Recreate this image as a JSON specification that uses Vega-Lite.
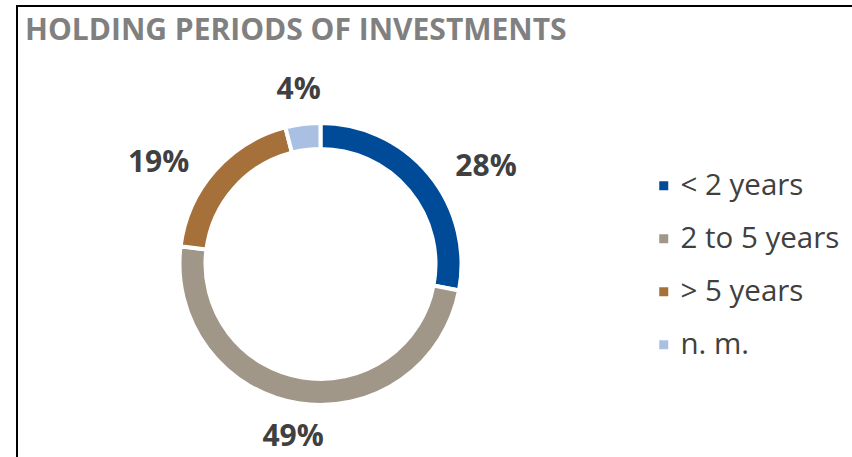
{
  "$schema": "https://vega.github.io/schema/vega-lite/v6.json",
  "autosize": "none",
  "width": 835,
  "height": 451,
  "padding": {"left": 17, "top": 6, "right": 0, "bottom": 0},
  "background": "white",
  "view": {"stroke": "#000000", "strokeWidth": 2, "strokeDash": [835, 1286, 451, 1]},
  "config": {
    "font": "Open Sans"
  },
  "title": {
    "text": "HOLDING PERIODS OF INVESTMENTS",
    "anchor": "start",
    "frame": "group",
    "orient": "top",
    "offset": 0,
    "baseline": "alphabetic",
    "dx": 8,
    "dy": 64,
    "font": "Open Sans",
    "fontSize": 30,
    "fontWeight": "bold",
    "color": "#808080"
  },
  "data": {
    "values": [
      {"idx": 1, "category": "< 2 years", "share": 28, "label": "28%"},
      {"idx": 2, "category": "2 to 5 years", "share": 49, "label": "49%"},
      {"idx": 3, "category": "> 5 years", "share": 19, "label": "19%"},
      {"idx": 4, "category": "n. m.", "share": 4, "label": "4%"}
    ]
  },
  "encoding": {
    "theta": {"field": "share", "type": "quantitative", "stack": true},
    "order": {"field": "idx", "type": "quantitative"}
  },
  "layer": [
    {
      "mark": {"type": "arc", "outerRadius": 141, "innerRadius": 115, "stroke": "white", "strokeWidth": 4, "xOffset": -114, "yOffset": 32.5},
      "encoding": {
        "color": {
          "field": "category",
          "type": "nominal",
          "scale": {
            "domain": ["< 2 years", "2 to 5 years", "> 5 years", "n. m."],
            "range": ["#004b98", "#a09789", "#a5703a", "#aac0e3"]
          },
          "legend": {
            "orient": "none",
            "legendX": 632,
            "legendY": 165,
            "title": null,
            "symbolType": "square",
            "symbolSize": 81,
            "symbolStrokeWidth": 0,
            "labelFont": "Open Sans",
            "labelFontSize": 29.5,
            "labelColor": "#404040",
            "labelOffset": 2,
            "rowPadding": 22,
            "padding": 0,
            "labelLimit": 300
          }
        }
      }
    },
    {
      "mark": {"type": "text", "radius": 175, "align": "center", "baseline": "middle", "font": "Open Sans", "fontSize": 30, "fontWeight": "bold", "color": "#404040", "xOffset": -114, "yOffset": 32.5},
      "encoding": {
        "text": {"field": "label", "type": "nominal"},
        "opacity": {"condition": {"test": "datum.idx == 2 || datum.idx == 4", "value": 1}, "value": 0}
      }
    },
    {
      "mark": {"type": "text", "radius": 175, "align": "left", "baseline": "top", "font": "Open Sans", "fontSize": 30, "fontWeight": "bold", "color": "#404040", "xOffset": -114, "yOffset": 32.5},
      "encoding": {
        "text": {"field": "label", "type": "nominal"},
        "opacity": {"condition": {"test": "datum.idx == 1", "value": 1}, "value": 0}
      }
    },
    {
      "mark": {"type": "text", "radius": 175, "align": "right", "baseline": "top", "font": "Open Sans", "fontSize": 30, "fontWeight": "bold", "color": "#404040", "xOffset": -114, "yOffset": 32.5},
      "encoding": {
        "text": {"field": "label", "type": "nominal"},
        "opacity": {"condition": {"test": "datum.idx == 3", "value": 1}, "value": 0}
      }
    }
  ]
}
